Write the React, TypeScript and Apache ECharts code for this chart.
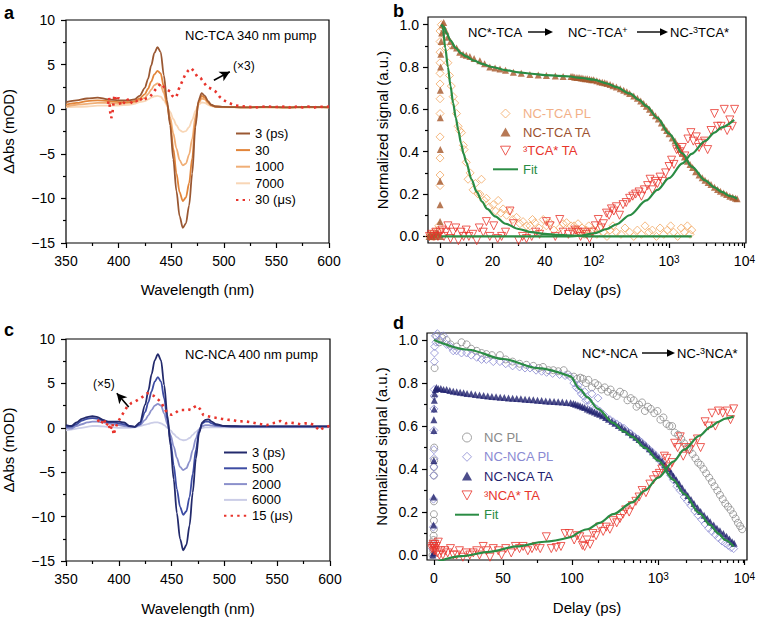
import React, { useEffect, useRef } from 'react';
import * as echarts from 'echarts';

const FONT = 'Liberation Sans, Arial, Helvetica, sans-serif';

// ---------- Panel a : NC-TCA spectra ----------
const WL_A = [
  350, 360, 370, 380, 390, 400, 410, 415, 420, 425,
  428, 431, 434, 437, 440, 443, 446, 449, 452, 455,
  458, 461, 464, 467, 470, 473, 476, 479, 482, 485,
  488, 492, 500, 520, 540, 560, 580, 600,
];
const A_3PS = [
  0.8, 1.0, 1.2, 1.3, 1.1, 1.0, 1.0, 1.1, 1.5, 2.4,
  3.4, 4.9, 6.3, 6.95, 6.4, 3.8, 1.0, -1.8, -5.6, -9.2,
  -12.0, -13.3, -12.8, -10.8, -7.2, -2.0, 1.0, 1.8, 1.5, 0.9,
  0.5, 0.3, 0.25, 0.2, 0.25, 0.2, 0.25, 0.2,
];
const A_30PS = [
  0.5, 0.7, 0.9, 1.0, 0.9, 0.8, 0.8, 0.9, 1.2, 1.7,
  2.3, 3.1, 3.9, 4.3, 4.0, 2.5, 0.6, -1.5, -4.4, -7.2,
  -9.3, -10.3, -9.9, -8.3, -5.5, -1.5, 0.8, 1.5, 1.3, 0.8,
  0.45, 0.3, 0.25, 0.2, 0.25, 0.2, 0.25, 0.2,
];
const A_1000PS = [
  0.3, 0.5, 0.6, 0.7, 0.7, 0.6, 0.7, 0.8, 1.0, 1.3,
  1.7, 2.2, 2.7, 2.9, 2.7, 1.8, 0.5, -0.9, -2.7, -4.4,
  -5.7, -6.3, -6.1, -5.1, -3.3, -0.8, 0.7, 1.2, 1.1, 0.7,
  0.4, 0.3, 0.25, 0.2, 0.2, 0.2, 0.2, 0.2,
];
const A_7000PS = [
  0.2, 0.25, 0.3, 0.4, 0.4, 0.4, 0.5, 0.6, 0.8, 0.9,
  1.1, 1.3, 1.45, 1.5, 1.4, 1.0, 0.4, -0.3, -1.1, -1.8,
  -2.35, -2.55, -2.45, -2.0, -1.2, -0.2, 0.5, 0.75, 0.7, 0.5,
  0.35, 0.25, 0.2, 0.2, 0.2, 0.15, 0.2, 0.2,
];
const A_30US = [
  [390, 0.6], [391, 1.3], [392, -0.3], [393, -1.0], [394, -0.6], [395, 0.5], [396, 1.6], [398, 0.9], [400, 1.3], [402, 0.4],
  [405, 0.7], [408, 1.2], [411, 0.6], [414, 1.0], [417, 0.9], [420, 1.3], [423, 0.9], [426, 1.2], [429, 1.3], [432, 1.7],
  [435, 2.2], [438, 2.6], [440, 2.9], [443, 2.5], [446, 2.2], [449, 2.0], [451, 1.5], [453, 1.3], [455, 1.4], [457, 2.2],
  [460, 3.0], [463, 3.8], [466, 4.3], [469, 4.6], [472, 4.2], [475, 3.6], [478, 3.5], [481, 3.0], [484, 2.5], [488, 2.3],
  [492, 2.0], [496, 1.4], [500, 1.0], [505, 0.7], [510, 0.45], [515, 0.35], [520, 0.3], [530, 0.2], [540, 0.3], [550, 0.25],
  [560, 0.3], [565, 0.1], [570, 0.35], [575, 0.2], [580, 0.3], [585, 0.15], [590, 0.3], [595, 0.25], [600, 0.3],
];
const ARROW_A = [[490.6, 3.25], [505.7, 4.2]];

// ---------- Panel c : NC-NCA spectra ----------
const WL_C = [
  350, 355, 360, 365, 370, 375, 380, 385, 390, 395,
  400, 405, 410, 415, 420, 425, 428, 431, 434, 437,
  440, 443, 446, 449, 452, 455, 458, 461, 464, 467,
  470, 473, 476, 479, 482, 485, 488, 492, 500, 520,
  540, 560, 580, 600,
];
const C_3PS = [
  0.3, 0.2, 0.6, 1.0, 1.2, 1.3, 1.2, 0.9, 0.7, 0.7,
  0.7, 0.6, 0.2, 0.1, 0.6, 2.6, 4.2, 6.0, 7.6, 8.3,
  7.6, 4.8, 1.4, -2.0, -5.8, -9.6, -12.5, -13.8, -13.2, -11.0,
  -7.3, -3.5, -0.6, 0.6, 0.9, 0.95, 0.7, 0.4, 0.2, 0.15,
  0.15, 0.15, 0.15, 0.15,
];
const C_500PS = [
  0.1, 0.1, 0.4, 0.8, 1.0, 1.1, 1.0, 0.8, 0.6, 0.6,
  0.5, 0.4, 0.2, 0.1, 0.4, 1.8, 2.9, 4.1, 5.2, 5.7,
  5.2, 3.3, 0.9, -1.5, -4.2, -6.9, -8.9, -9.8, -9.4, -7.8,
  -5.2, -2.5, -0.4, 0.5, 0.7, 0.7, 0.5, 0.3, 0.2, 0.15,
  0.15, 0.15, 0.15, 0.15,
];
const C_2000PS = [
  0.0, -0.1, 0.2, 0.4, 0.6, 0.7, 0.7, 0.6, 0.5, 0.4,
  0.3, 0.2, 0.1, 0.1, 0.3, 0.9, 1.4, 2.0, 2.5, 2.7,
  2.5, 1.6, 0.4, -0.8, -2.1, -3.4, -4.4, -4.75, -4.55, -3.8,
  -2.5, -1.2, -0.2, 0.2, 0.3, 0.3, 0.25, 0.2, 0.15, 0.1,
  0.1, 0.1, 0.1, 0.1,
];
const C_6000PS = [
  -0.3, -0.2, -0.1, 0.0, 0.1, 0.2, 0.2, 0.15, 0.1, 0.05,
  0.0, 0.0, 0.0, 0.05, 0.2, 0.35, 0.45, 0.55, 0.6, 0.6,
  0.5, 0.3, 0.0, -0.3, -0.7, -1.05, -1.3, -1.4, -1.35, -1.15,
  -0.8, -0.45, -0.15, 0.0, 0.05, 0.05, 0.05, 0.05, 0.05, 0.05,
  0.05, 0.05, 0.05, 0.05,
];
const C_15US = [
  [380, 0.9], [383, 0.4], [386, 1.0], [388, 0.2], [390, 0.6], [392, -0.3], [394, 0.5], [395, -0.8], [397, 0.0], [399, 0.6],
  [402, 1.25], [405, 1.8], [408, 2.4], [412, 2.8], [416, 3.0], [420, 3.3], [424, 3.6], [427, 3.9], [430, 3.7], [433, 3.6],
  [436, 3.3], [440, 2.9], [444, 2.0], [447, 1.6], [450, 1.45], [453, 1.6], [456, 1.9], [459, 2.0], [462, 2.0], [465, 2.1],
  [468, 2.0], [471, 2.3], [474, 2.5], [477, 2.1], [480, 1.45], [484, 1.3], [488, 1.2], [493, 1.1], [498, 1.0], [503, 0.9],
  [508, 0.88], [513, 0.7], [518, 0.75], [524, 0.65], [530, 0.5], [535, 0.4], [540, 0.3], [545, 0.5], [550, 0.6], [553, 0.77],
  [558, 0.5], [562, 0.6], [567, 0.5], [572, 0.4], [577, 0.5], [581, 0.5], [585, 0.3], [590, -0.3], [595, 0.1], [600, 0.2],
];
const ARROW_C = [[409.4, 2.34], [398.1, 3.9]];

// ---------- Panel b : NC-TCA kinetics [delay ps, signal] ----------
const B_TCA_PL = [
  [-4, 0.0], [-3.5, 0.01], [-3, 0.0], [-2.5, 0.02], [-2, 0.0], [-1.5, 0.01], [-1, 0.03], [-0.5, 0.05],
  [0, 0.24], [0, 0.29], [0, 0.37], [0, 0.47], [0, 0.58], [0, 0.65], [0, 0.72], [0, 0.77], [0, 0.82], [0, 0.87], [0, 0.92], [0, 0.97],
  [0.5, 1.0], [1, 0.98], [1.5, 0.95], [2.3, 0.89], [3.0, 0.82], [3.6, 0.76], [4.3, 0.71], [5, 0.66], [5.6, 0.63], [6.3, 0.58],
  [6.9, 0.52], [7.5, 0.5], [8.2, 0.49], [8.9, 0.43], [9.2, 0.41], [10, 0.35], [10.7, 0.27], [11.5, 0.3], [12.6, 0.22], [13.5, 0.25],
  [14.5, 0.2], [15.2, 0.2], [15.8, 0.27], [16.8, 0.17], [17.7, 0.18], [18.8, 0.14], [20.3, 0.15], [21.2, 0.12], [22.2, 0.17], [23.2, 0.11],
  [24.1, 0.13], [25.4, 0.1], [26.5, 0.12], [27.8, 0.08], [29.2, 0.09], [30.5, 0.06], [31.7, 0.07], [33, 0.05], [34.3, 0.05], [35.3, 0.08],
  [36.2, 0.065], [37.8, 0.04], [39.4, 0.08], [40.6, 0.05], [41.9, 0.065], [43.5, 0.03], [45.7, 0.04], [47, 0.06], [48.3, 0.065], [50, 0.05],
  [55, 0.05], [58, 0.03], [62, 0.06], [66, 0.02], [70, 0.04], [75, 0.01], [80, 0.03], [86, 0.05], [92, 0.02], [100, 0.03],
  [110, 0.01], [120, 0.04], [135, 0.02], [150, 0.0], [165, 0.03], [180, 0.05], [200, 0.02], [230, 0.01], [260, 0.04], [300, 0.02],
  [340, 0.0], [380, 0.03], [430, 0.01], [480, 0.05], [540, 0.02], [600, 0.03], [680, 0.0], [760, 0.04], [850, 0.01], [950, 0.03],
  [1050, 0.05], [1150, 0.02], [1300, 0.0], [1450, 0.04], [1600, 0.02], [1750, 0.05], [1900, 0.01], [2000, 0.03],
];
const B_TCA_TA = [
  [-4.2, 0.0], [-3.6, 0.01], [-3, 0.0], [-2.4, 0.01], [-1.8, 0.0], [-1.2, 0.02], [-0.6, 0.01], [0, 0.0], [0, 0.07], [0, 0.15],
  [0, 0.26], [0.1, 0.41], [0.1, 0.56], [0.1, 0.69], [0.2, 0.8], [0.3, 0.86], [0.4, 0.92], [0.6, 0.96], [0.9, 1.0], [1.4, 1.01],
  [2.2, 0.97], [3, 0.94], [4, 0.92], [5, 0.9], [6.3, 0.89], [7.5, 0.87], [8.8, 0.86], [10, 0.855], [11.4, 0.85], [13, 0.84],
  [15.2, 0.83], [17, 0.815], [19, 0.8], [21, 0.795], [22.9, 0.79], [25, 0.785], [28, 0.775], [31, 0.77], [34.3, 0.765], [37.5, 0.762],
  [40.6, 0.76], [44, 0.758], [47, 0.755], [50, 0.755],
  [53, 0.755], [56, 0.752], [60, 0.75], [64, 0.75], [68, 0.748], [72, 0.747], [77, 0.745], [82, 0.745], [88, 0.742], [94, 0.74],
  [100, 0.74], [110, 0.735], [120, 0.73], [130, 0.728], [140, 0.725], [150, 0.722], [165, 0.717], [180, 0.712], [200, 0.705], [225, 0.697],
  [250, 0.69], [275, 0.683], [300, 0.675], [340, 0.663], [380, 0.652], [420, 0.64], [460, 0.628], [500, 0.615], [550, 0.6], [600, 0.585],
  [660, 0.57], [720, 0.555], [790, 0.535], [860, 0.515], [930, 0.5], [1000, 0.485], [1100, 0.465], [1200, 0.45], [1300, 0.43], [1400, 0.41],
  [1500, 0.392], [1600, 0.375], [1750, 0.355], [1900, 0.34], [2050, 0.325], [2250, 0.305], [2500, 0.29], [2750, 0.277], [3000, 0.265], [3300, 0.255],
  [3600, 0.245], [4000, 0.232], [4400, 0.222], [4800, 0.213], [5300, 0.205], [5800, 0.198], [6400, 0.19], [7000, 0.185], [7600, 0.18], [8000, 0.178],
];
const B_3TCA_TA = [
  [-4, 0.0], [-3.2, 0.01], [-2.4, 0.0], [-1.6, 0.02], [-0.8, 0.0], [0, 0.02], [0.8, 0.03], [1.5, 0.0], [2.3, 0.02], [3, 0.05],
  [4, -0.01], [5, 0.02], [6, 0.04], [7, -0.02], [8, 0.02], [9, 0.0], [10, 0.03], [11, 0.0], [12.5, 0.01], [14, -0.02],
  [15, 0.04], [16.5, 0.02], [17.7, 0.07], [19, 0.0], [20.5, 0.05], [22, -0.01], [23.5, 0.0], [25, 0.02], [26.7, 0.12], [28, 0.06],
  [30, -0.02], [31.5, 0.0], [33, -0.01], [35, 0.0], [36.5, 0.02], [38, 0.01], [40.6, 0.07], [42, 0.05], [44, 0.0], [45.7, 0.08],
  [47, 0.02], [49, 0.01],
  [52, 0.02], [57, 0.03], [62, 0.02], [67, 0.0], [73, 0.02], [80, 0.01], [88, -0.01], [95, 0.02], [105, 0.05], [115, 0.08],
  [125, 0.04], [135, 0.06], [148, 0.11], [160, 0.1], [172, 0.13], [185, 0.12], [200, 0.14], [220, 0.1], [245, 0.15], [270, 0.16],
  [300, 0.18], [330, 0.19], [360, 0.2], [400, 0.21], [430, 0.19], [470, 0.22], [520, 0.24], [560, 0.27], [600, 0.22], [650, 0.26],
  [700, 0.25], [760, 0.28], [820, 0.26], [900, 0.3], [1000, 0.33], [1080, 0.36], [1160, 0.34], [1260, 0.41], [1380, 0.4], [1500, 0.42],
  [1620, 0.38], [1780, 0.46], [1950, 0.49], [2100, 0.45], [2300, 0.47], [2500, 0.42], [2700, 0.44], [2950, 0.45], [3250, 0.41], [3600, 0.5],
  [4000, 0.58], [4400, 0.52], [4900, 0.52], [5400, 0.6], [5900, 0.5], [6400, 0.55], [6900, 0.52], [7400, 0.6],
];
const B_FIT_PL = [
  [0.5, 1.0], [1, 0.99], [2, 0.89], [3, 0.8], [4, 0.71], [5, 0.63], [6, 0.56], [7, 0.5], [8, 0.44], [9, 0.39],
  [10, 0.35], [12, 0.27], [14, 0.21], [16, 0.165], [18, 0.13], [21, 0.095], [25, 0.06], [30, 0.035], [35, 0.02], [40, 0.012],
  [45, 0.007], [50, 0.004], [100, 0.0], [2000, 0.0],
];
const B_FIT_TA = [
  [0.5, 1.0], [1.5, 0.99], [2.5, 0.96], [4, 0.925], [6, 0.89], [8, 0.865], [10, 0.85], [13, 0.83], [16, 0.815], [20, 0.8],
  [25, 0.785], [30, 0.775], [35, 0.768], [40, 0.762], [45, 0.758], [50, 0.755], [70, 0.748], [100, 0.74], [150, 0.722], [200, 0.705],
  [300, 0.675], [400, 0.645], [500, 0.615], [700, 0.56], [1000, 0.485], [1500, 0.392], [2000, 0.33], [3000, 0.265], [4000, 0.232], [5000, 0.21],
  [6500, 0.19], [8000, 0.178],
];
const B_FIT_3TCA = [
  [0.5, 0.0], [50, 0.0], [70, 0.004], [100, 0.015], [150, 0.035], [200, 0.057], [300, 0.1], [500, 0.17], [700, 0.22], [1000, 0.275],
  [1500, 0.345], [2000, 0.39], [3000, 0.45], [4000, 0.49], [5000, 0.515], [7300, 0.55],
];

// ---------- Panel d : NC-NCA kinetics [delay ps, signal] ----------
const D_NC_PL = [
  [-1, 0.0], [-0.6, 0.02], [-0.3, 0.07], [-0.2, 0.09], [0, 0.12], [0, 0.16], [0, 0.19], [0, 0.25], [0, 0.37], [0, 0.41],
  [0.2, 0.44], [0.2, 0.5], [0.5, 0.87], [1.8, 1.02], [4, 0.99], [6, 1.01], [9.2, 1.0], [12, 0.98], [16.4, 0.97], [20, 0.99],
  [23.7, 0.98], [27, 0.96], [31, 0.95], [34.5, 0.94], [38, 0.935], [42, 0.93], [47.8, 0.93], [52, 0.91], [57, 0.9], [62, 0.89],
  [67, 0.885], [72, 0.88], [76, 0.87], [79, 0.875], [83, 0.86], [86.5, 0.86], [90, 0.855], [94, 0.86], [97, 0.84],
  [105, 0.83], [115, 0.82], [125, 0.825], [134, 0.82], [145, 0.8], [155, 0.815], [170, 0.78], [185, 0.8], [200, 0.79], [220, 0.77],
  [240, 0.78], [260, 0.76], [280, 0.77], [300, 0.75], [330, 0.74], [360, 0.76], [400, 0.75], [440, 0.72], [480, 0.73], [520, 0.72],
  [560, 0.69], [600, 0.7], [650, 0.71], [700, 0.67], [760, 0.69], [820, 0.68], [900, 0.66], [980, 0.67], [1060, 0.63], [1150, 0.64],
  [1250, 0.61], [1350, 0.6], [1450, 0.6], [1550, 0.57], [1700, 0.56], [1850, 0.54], [2000, 0.52], [2150, 0.5], [2300, 0.49], [2500, 0.47],
  [2700, 0.45], [2900, 0.43], [3100, 0.42], [3350, 0.4], [3600, 0.38], [3900, 0.36], [4200, 0.34], [4500, 0.32], [4850, 0.3], [5200, 0.28],
  [5600, 0.26], [6000, 0.24], [6450, 0.225], [6900, 0.21], [7400, 0.19], [7900, 0.17], [8400, 0.15], [8900, 0.135], [9400, 0.12],
];
const D_NCA_PL = [
  [-1, 0.03], [-0.6, 0.05], [-0.4, 0.13], [-0.3, 0.26], [-0.2, 0.37], [0, 0.41], [0, 0.45], [0, 0.49], [0, 0.58], [0, 0.68],
  [0.2, 0.74], [0.2, 0.77], [0.3, 0.9], [0.4, 0.94], [0.6, 0.97], [1, 1.02], [1.5, 0.99], [2.5, 1.03], [4, 1.0], [6.9, 1.02],
  [9.2, 0.98], [12, 0.97], [14, 0.95], [16.4, 0.95], [20, 0.94], [23.7, 0.94], [27, 0.93], [31, 0.92], [34.5, 0.91], [38, 0.91],
  [43, 0.9], [47.8, 0.9], [52, 0.89], [57, 0.88], [62, 0.875], [66, 0.87], [69.6, 0.87], [74, 0.86], [78, 0.855], [81.6, 0.85],
  [86, 0.845], [91, 0.84], [95, 0.835], [98.6, 0.83],
  [105, 0.8], [112, 0.78], [118, 0.79], [120, 0.77], [128, 0.75], [136, 0.74], [140, 0.76], [145, 0.72], [155, 0.72], [165, 0.7],
  [170, 0.75], [178, 0.69], [192, 0.68], [200, 0.73], [209, 0.67], [230, 0.655], [250, 0.64], [275, 0.63], [300, 0.62], [330, 0.61],
  [360, 0.6], [400, 0.59], [440, 0.575], [480, 0.565], [530, 0.55], [580, 0.54], [640, 0.525], [700, 0.51], [770, 0.495], [850, 0.48],
  [930, 0.465], [1010, 0.45], [1100, 0.43], [1200, 0.41], [1300, 0.39], [1400, 0.37], [1500, 0.35], [1650, 0.32], [1800, 0.3], [2000, 0.27],
  [2200, 0.25], [2400, 0.23], [2650, 0.205], [2900, 0.185], [3200, 0.165], [3500, 0.145], [3850, 0.125], [4200, 0.11], [4600, 0.095], [5000, 0.08],
  [5500, 0.065], [6000, 0.055], [6500, 0.045], [7000, 0.035], [7500, 0.03],
];
const D_NCA_TA = [
  [-0.8, 0.0], [-0.5, 0.01], [-0.3, 0.14], [-0.2, 0.27], [0, 0.44], [0, 0.58], [0, 0.63], [0.2, 0.68], [0.3, 0.72], [0.5, 0.75],
  [1, 0.77], [1.8, 0.78], [3.1, 0.775], [5, 0.775], [7, 0.77], [9.2, 0.77], [11.5, 0.765], [14, 0.762], [16.5, 0.76], [19, 0.757],
  [21.5, 0.755], [24, 0.752], [27, 0.75], [30, 0.747], [33, 0.745], [36, 0.742], [39, 0.74], [42, 0.738], [45, 0.736], [48, 0.734],
  [51, 0.733], [54, 0.731], [57, 0.73], [60, 0.728], [63, 0.727], [66, 0.725], [69, 0.724], [72, 0.722], [75, 0.72], [78, 0.719],
  [81, 0.717], [84, 0.716], [87, 0.714], [90, 0.713], [93, 0.712], [96, 0.71], [99, 0.708],
  [104, 0.705], [110, 0.702], [117, 0.698], [124, 0.694], [132, 0.69], [140, 0.686], [150, 0.68], [160, 0.675], [170, 0.67], [182, 0.665],
  [195, 0.66], [209, 0.655], [225, 0.648], [245, 0.64], [265, 0.632], [290, 0.622], [315, 0.613], [345, 0.603], [375, 0.594], [410, 0.584],
  [450, 0.573], [500, 0.56], [550, 0.548], [600, 0.537], [660, 0.523], [720, 0.51], [790, 0.495], [860, 0.481], [940, 0.466], [1020, 0.452],
  [1110, 0.436], [1200, 0.42], [1300, 0.403], [1400, 0.385], [1500, 0.368], [1620, 0.35], [1750, 0.332], [1900, 0.312], [2050, 0.293], [2200, 0.277],
  [2400, 0.258], [2600, 0.24], [2850, 0.22], [3100, 0.203], [3400, 0.185], [3700, 0.17], [4000, 0.155], [4400, 0.14], [4800, 0.125], [5200, 0.113],
  [5700, 0.1], [6200, 0.088], [6700, 0.075], [7200, 0.062], [7600, 0.055],
];
const D_3NCA_TA = [
  [-1.5, 0.03], [-1, 0.04], [-0.5, 0.05], [0, 0.04], [0, 0.02], [0.3, 0.03], [0.8, 0.05], [1.2, 0.02], [1.8, 0.04], [2.5, 0.01],
  [3.2, 0.06], [4, 0.0], [5, 0.02], [6.5, 0.0], [8, 0.02], [10, 0.01], [12, 0.03], [14, 0.0], [16.4, 0.0], [18.5, 0.02],
  [21, -0.01], [23.5, 0.01], [26, 0.0], [28.5, 0.01], [31, 0.02], [33, 0.0], [35.7, 0.04], [38, 0.02], [40.6, -0.01], [43, 0.03],
  [46.6, 0.02], [49, 0.0], [52, 0.03], [56, 0.01], [59, 0.04], [62, 0.03], [64.6, 0.04], [68, 0.02], [71, 0.03], [74.2, 0.04],
  [77, 0.03], [81.4, 0.085], [85, 0.03], [88.6, 0.035], [92, 0.04], [95, 0.1], [98, 0.1],
  [106, 0.07], [115, 0.09], [123, 0.085], [132, 0.045], [140, 0.04], [150, 0.07], [162, 0.05], [175, 0.1], [190, 0.09], [209, 0.13],
  [230, 0.11], [250, 0.13], [275, 0.12], [300, 0.16], [330, 0.15], [360, 0.17], [390, 0.19], [420, 0.21], [460, 0.2], [500, 0.23],
  [550, 0.25], [600, 0.27], [650, 0.3], [720, 0.29], [800, 0.33], [880, 0.35], [950, 0.37], [1030, 0.38], [1100, 0.4], [1180, 0.46],
  [1260, 0.45], [1350, 0.41], [1450, 0.43], [1550, 0.52], [1680, 0.5], [1800, 0.55], [1950, 0.46], [2100, 0.5], [2300, 0.49], [2550, 0.52],
  [2850, 0.54], [3100, 0.5], [3500, 0.62], [3800, 0.6], [4200, 0.66], [4600, 0.6], [5000, 0.67], [5600, 0.66], [6300, 0.67], [6900, 0.63],
  [7500, 0.68],
];
const D_FIT_DECAY = [
  [0, 1.0], [25, 0.955], [50, 0.912], [75, 0.87], [100, 0.828], [125, 0.77], [150, 0.735], [200, 0.68], [300, 0.615], [400, 0.575],
  [500, 0.55], [700, 0.5], [1000, 0.44], [1500, 0.35], [2000, 0.285], [3000, 0.195], [4000, 0.14], [5000, 0.1], [6000, 0.07], [7500, 0.04],
];
const D_FIT_RISE = [
  [3, -0.03], [20, -0.005], [40, 0.015], [60, 0.04], [80, 0.062], [100, 0.085], [150, 0.12], [209, 0.15], [300, 0.19], [500, 0.245],
  [700, 0.3], [1000, 0.36], [1500, 0.435], [2000, 0.49], [3000, 0.555], [4000, 0.595], [5000, 0.62], [6000, 0.635], [7500, 0.645],
];

// ---------- axis ticks ----------
const WL_RANGE = [350, 600];
const DABS_RANGE = [-15, 10];
const B_LIN_RANGE = [-4.6, 50];
const B_LOG_RANGE = [50, 10000];
const D_LIN_RANGE = [-5, 100];
const D_LOG_RANGE = [100, 10000];
const B_Y_RANGE = [-0.031, 1.036];
const D_Y_RANGE = [-0.023, 1.033];
const NORM_TICKS = [0, 0.2, 0.4, 0.6, 0.8, 1.0];
const NORM_MINOR = [0.1, 0.3, 0.5, 0.7, 0.9];
const B_LIN_TICKS = [0, 20, 40];
const B_LIN_MINOR = [10, 30];
const B_LOG_TICKS = [100, 1000, 10000];
const B_LOG_MINOR = [60, 70, 80, 90, 200, 300, 400, 500, 600, 700, 800, 900, 2000, 3000, 4000, 5000, 6000, 7000, 8000, 9000];
const D_LIN_TICKS = [0, 50, 100];
const D_LIN_MINOR = [25, 75];
const D_LOG_TICKS = [1000, 10000];
const D_LOG_MINOR = [200, 300, 400, 500, 600, 700, 800, 900, 2000, 3000, 4000, 5000, 6000, 7000, 8000, 9000];

// colours
const COL = {
  a3: '#9a5833', a30: '#e2853a', a1000: '#f0ae76', a7000: '#f8d6b6', red: '#e8342c',
  c3: '#232a6c', c500: '#3d4ca3', c2000: '#8b90cb', c6000: '#cbcde7',
  pl: '#f3a862', ta: '#a5582b', fit: '#2a8c44',
  ncpl: '#8c8c8c', ncapl: '#8a8ad2', ncata: '#1f206e',
};

// legend marker outlines (drawn at a fixed aspect ratio)
const ICON = {
  diamond: 'path://M5,0 L10,5 L5,10 L0,5 Z',
  up: 'path://M5,0 L10,9 L0,9 Z',
  down: 'path://M0,0 L10,0 L5,9 Z',
  circle: 'path://M0,5 A5,5 0 1,1 10,5 A5,5 0 1,1 0,5 Z',
};

const L10 = (v: number) => Math.log10(v);
const linPart = (pairs: number[][], cut: number) => pairs.filter((p) => p[0] <= cut);
const logPart = (pairs: number[][], cut: number, incl: boolean) =>
  pairs.filter((p) => (incl ? p[0] >= cut : p[0] > cut)).map((p) => [L10(p[0]), p[1]]);
const zip = (xs: number[], ys: number[]) => xs.map((x, i) => [x, ys[i]]);

const tickLine = { color: '#000', width: 1.2 };
const labelBase = { color: '#000', fontSize: 14, fontFamily: FONT };
const nameStyle = { color: '#000', fontSize: 15, fontFamily: FONT };
const minusFmt = (v: number) => (v < 0 ? '\u2212' + Math.abs(v) : String(v));

function vAxis(gridIndex: number, min: number, max: number, extra: any = {}) {
  return {
    type: 'value',
    gridIndex,
    min,
    max,
    axisLine: { show: false, onZero: false },
    axisTick: { show: false },
    axisLabel: { show: false },
    minorTick: { show: false },
    splitLine: { show: false },
    ...extra,
  };
}

function buildOption() {
  const gridBox = { show: true, borderColor: '#000', borderWidth: 1.2, backgroundColor: 'transparent' };
  const grids = [
    { left: 65, top: 20, width: 264, height: 223, ...gridBox }, // 0 a
    { left: 65, top: 339, width: 265, height: 222, ...gridBox }, // 1 c
    { left: 428, top: 17, width: 318, height: 226, ...gridBox }, // 2 b frame
    { left: 428, top: 17, width: 143, height: 226 }, // 3 b lin
    { left: 571, top: 17, width: 175, height: 226 }, // 4 b log
    { left: 428, top: 17, width: 143, height: 226 }, // 5 b lin minor
    { left: 571, top: 17, width: 175, height: 226 }, // 6 b log minor
    { left: 427, top: 333, width: 320, height: 227, ...gridBox }, // 7 d frame
    { left: 427, top: 333, width: 145, height: 227 }, // 8 d lin
    { left: 572, top: 333, width: 175, height: 227 }, // 9 d log
    { left: 427, top: 333, width: 145, height: 227 }, // 10 d lin minor
    { left: 572, top: 333, width: 175, height: 227 }, // 11 d log minor
  ];

  const major = (vals: number[] | null, extraLabel: any = {}) => ({
    axisTick: vals ? { show: true, customValues: vals, length: 5, lineStyle: tickLine } : { show: true, length: 5, lineStyle: tickLine },
    axisLabel: vals
      ? { show: true, customValues: vals, margin: 11, ...labelBase, ...extraLabel }
      : { show: true, margin: 11, ...labelBase, ...extraLabel },
  });
  const minor = (vals: number[]) => ({ axisTick: { show: true, customValues: vals, length: 3, lineStyle: tickLine } });
  const supFmt = (v: number) => '10{sup|' + Math.round(v) + '}';
  const supRich = { sup: { fontSize: 10, verticalAlign: 'top', color: '#000', fontFamily: FONT } };

  const specX = (gi: number, gap: number) =>
    vAxis(gi, WL_RANGE[0], WL_RANGE[1], {
      interval: 50,
      ...major(null),
      minorTick: { show: true, splitNumber: 2, length: 3, lineStyle: tickLine },
      name: 'Wavelength (nm)', nameLocation: 'middle', nameGap: gap, nameTextStyle: nameStyle,
    });
  const specY = (gi: number) =>
    vAxis(gi, DABS_RANGE[0], DABS_RANGE[1], {
      interval: 5,
      ...major(null, { formatter: minusFmt }),
      minorTick: { show: true, splitNumber: 2, length: 3, lineStyle: tickLine },
      name: '\u0394Abs (mOD)', nameLocation: 'middle', nameGap: 50, nameTextStyle: nameStyle,
    });

  const xAxis = [
    specX(0, 39), // 0
    specX(1, 40), // 1
    vAxis(2, 0, 1, { name: 'Delay (ps)', nameLocation: 'middle', nameGap: 39, nameTextStyle: nameStyle }), // 2
    vAxis(3, B_LIN_RANGE[0], B_LIN_RANGE[1], major(B_LIN_TICKS)), // 3
    vAxis(4, L10(B_LOG_RANGE[0]), L10(B_LOG_RANGE[1]), major(B_LOG_TICKS.map(L10), { formatter: supFmt, rich: supRich })), // 4
    vAxis(5, B_LIN_RANGE[0], B_LIN_RANGE[1], minor(B_LIN_MINOR)), // 5
    vAxis(6, L10(B_LOG_RANGE[0]), L10(B_LOG_RANGE[1]), minor(B_LOG_MINOR.map(L10))), // 6
    vAxis(7, 0, 1, { name: 'Delay (ps)', nameLocation: 'middle', nameGap: 40, nameTextStyle: nameStyle }), // 7
    vAxis(8, D_LIN_RANGE[0], D_LIN_RANGE[1], major(D_LIN_TICKS)), // 8
    vAxis(9, L10(D_LOG_RANGE[0]), L10(D_LOG_RANGE[1]), major(D_LOG_TICKS.map(L10), { formatter: supFmt, rich: supRich })), // 9
    vAxis(10, D_LIN_RANGE[0], D_LIN_RANGE[1], minor(D_LIN_MINOR)), // 10
    vAxis(11, L10(D_LOG_RANGE[0]), L10(D_LOG_RANGE[1]), minor(D_LOG_MINOR.map(L10))), // 11
  ];
  const normFmt = (v: number) => v.toFixed(1);
  const yAxis = [
    specY(0), // 0
    specY(1), // 1
    vAxis(2, 0, 1, { name: 'Normalized signal (a.u.)', nameLocation: 'middle', nameGap: 38, nameTextStyle: nameStyle }), // 2
    vAxis(3, B_Y_RANGE[0], B_Y_RANGE[1], major(NORM_TICKS, { formatter: normFmt, margin: 9 })), // 3
    vAxis(4, B_Y_RANGE[0], B_Y_RANGE[1]), // 4
    vAxis(5, B_Y_RANGE[0], B_Y_RANGE[1], minor(NORM_MINOR)), // 5
    vAxis(6, B_Y_RANGE[0], B_Y_RANGE[1]), // 6
    vAxis(7, 0, 1, { name: 'Normalized signal (a.u.)', nameLocation: 'middle', nameGap: 38, nameTextStyle: nameStyle }), // 7
    vAxis(8, D_Y_RANGE[0], D_Y_RANGE[1], major(NORM_TICKS, { formatter: normFmt, margin: 9 })), // 8
    vAxis(9, D_Y_RANGE[0], D_Y_RANGE[1]), // 9
    vAxis(10, D_Y_RANGE[0], D_Y_RANGE[1], minor(NORM_MINOR)), // 10
    vAxis(11, D_Y_RANGE[0], D_Y_RANGE[1]), // 11
  ];

  const specLine = (name: string, data: number[][], ai: number, color: string, width = 1.8) => ({
    type: 'line', name, data, xAxisIndex: ai, yAxisIndex: ai, symbol: 'none', smooth: 0.3, smoothMonotone: 'x',
    lineStyle: { color, width }, itemStyle: { color }, silent: true, z: 2,
  });
  const dotLine = (name: string, data: number[][], ai: number, arrow: number[][]) => ({
    type: 'line', name, data, xAxisIndex: ai, yAxisIndex: ai, symbol: 'none',
    lineStyle: { color: COL.red, width: 2.6, type: [2.4, 4.2] }, itemStyle: { color: COL.red }, silent: true, z: 3,
    markLine: {
      silent: true, symbol: ['none', 'arrow'], symbolSize: [8, 10], label: { show: false },
      lineStyle: { color: '#000', width: 1.6, type: 'solid' },
      data: [[{ coord: arrow[0] }, { coord: arrow[1] }]],
    },
  });
  const scat = (name: string, data: number[][], ai: number, symbol: string, size: number, color: string, filled: boolean, rotate = 0, z = 3) => ({
    type: 'scatter', name, data, xAxisIndex: ai, yAxisIndex: ai, symbol, symbolSize: size, symbolRotate: rotate,
    itemStyle: filled ? { color } : { color: 'rgba(255,255,255,0)', borderColor: color, borderWidth: 1 },
    silent: true, z,
  });
  const fitLine = (name: string, data: number[][], ai: number) => ({
    type: 'line', name, data, xAxisIndex: ai, yAxisIndex: ai, symbol: 'none', smooth: 0.3, smoothMonotone: 'x',
    lineStyle: { color: COL.fit, width: 2.2 }, itemStyle: { color: COL.fit }, silent: true, z: 6,
  });

  const BC = B_LIN_RANGE[1];
  const DC = D_LIN_RANGE[1];
  const series: any[] = [
    // a
    specLine('a:7000', zip(WL_A, A_7000PS), 0, COL.a7000),
    specLine('a:1000', zip(WL_A, A_1000PS), 0, COL.a1000),
    specLine('a:30', zip(WL_A, A_30PS), 0, COL.a30),
    specLine('a:3 (ps)', zip(WL_A, A_3PS), 0, COL.a3),
    dotLine('a:30 (\u03bcs)', A_30US, 0, ARROW_A),
    // c
    specLine('c:6000', zip(WL_C, C_6000PS), 1, COL.c6000),
    specLine('c:2000', zip(WL_C, C_2000PS), 1, COL.c2000),
    specLine('c:500', zip(WL_C, C_500PS), 1, COL.c500),
    specLine('c:3 (ps)', zip(WL_C, C_3PS), 1, COL.c3),
    dotLine('c:15 (\u03bcs)', C_15US, 1, ARROW_C),
    // b
    scat('b:NC-TCA PL', linPart(B_TCA_PL, BC), 3, 'diamond', 8, COL.pl, false),
    scat('b:NC-TCA PL', logPart(B_TCA_PL, BC, false), 4, 'diamond', 8, COL.pl, false),
    scat('b:NC-TCA TA', linPart(B_TCA_TA, BC), 3, 'triangle', 7, COL.ta, true, 0, 4),
    scat('b:NC-TCA TA', logPart(B_TCA_TA, BC, false), 4, 'triangle', 7, COL.ta, true, 0, 4),
    scat('b:\u00b3TCA* TA', linPart(B_3TCA_TA, BC), 3, 'triangle', 8, COL.red, false, 180, 5),
    scat('b:\u00b3TCA* TA', logPart(B_3TCA_TA, BC, false), 4, 'triangle', 8, COL.red, false, 180, 5),
    fitLine('b:Fit', linPart(B_FIT_PL, BC), 3),
    fitLine('b:Fit', logPart(B_FIT_PL, BC, true), 4),
    fitLine('b:Fit', linPart(B_FIT_TA, BC), 3),
    fitLine('b:Fit', logPart(B_FIT_TA, BC, true), 4),
    fitLine('b:Fit', linPart(B_FIT_3TCA, BC), 3),
    fitLine('b:Fit', logPart(B_FIT_3TCA, BC, true), 4),
    // d
    scat('d:NC PL', linPart(D_NC_PL, DC), 8, 'circle', 7, COL.ncpl, false),
    scat('d:NC PL', logPart(D_NC_PL, DC, false), 9, 'circle', 7, COL.ncpl, false),
    scat('d:NC-NCA PL', linPart(D_NCA_PL, DC), 8, 'diamond', 8, COL.ncapl, false),
    scat('d:NC-NCA PL', logPart(D_NCA_PL, DC, false), 9, 'diamond', 8, COL.ncapl, false),
    scat('d:NC-NCA TA', linPart(D_NCA_TA, DC), 8, 'triangle', 7, COL.ncata, true, 0, 4),
    scat('d:NC-NCA TA', logPart(D_NCA_TA, DC, false), 9, 'triangle', 7, COL.ncata, true, 0, 4),
    scat('d:\u00b3NCA* TA', linPart(D_3NCA_TA, DC), 8, 'triangle', 8, COL.red, false, 180, 5),
    scat('d:\u00b3NCA* TA', logPart(D_3NCA_TA, DC, false), 9, 'triangle', 8, COL.red, false, 180, 5),
    fitLine('d:Fit', linPart(D_FIT_DECAY, DC), 8),
    fitLine('d:Fit', logPart(D_FIT_DECAY, DC, true), 9),
    fitLine('d:Fit', linPart(D_FIT_RISE, DC), 8),
    fitLine('d:Fit', logPart(D_FIT_RISE, DC, true), 9),
  ];

  const legendBase = {
    orient: 'vertical', padding: 0, selectedMode: false, itemHeight: 9, symbolKeepAspect: true,
    textStyle: { fontSize: 13, fontFamily: FONT, color: '#000' },
    formatter: (n: string) => n.slice(2),
  };
  const hideSym = { opacity: 0 };
  const openMark = (color: string) => ({ color: 'rgba(255,255,255,0)', borderColor: color, borderWidth: 1 });
  const legend = [
    { ...legendBase, left: 235, top: 127, itemWidth: 14, itemGap: 3.6, itemStyle: hideSym,
      data: ['a:3 (ps)', 'a:30', 'a:1000', 'a:7000', 'a:30 (\u03bcs)'] },
    { ...legendBase, left: 223, top: 446, itemWidth: 23, itemGap: 2.8, itemStyle: hideSym,
      data: ['c:3 (ps)', 'c:500', 'c:2000', 'c:6000', 'c:15 (\u03bcs)'] },
    { ...legendBase, left: 492, top: 107, itemWidth: 25, itemGap: 5.6,
      data: [
        { name: 'b:NC-TCA PL', icon: ICON.diamond, symbolRotate: 0, itemStyle: openMark(COL.pl), textStyle: { color: '#f2b088' } },
        { name: 'b:NC-TCA TA', icon: ICON.up, symbolRotate: 0, itemStyle: { color: COL.ta, borderWidth: 0 }, textStyle: { color: '#9c5230' } },
        { name: 'b:\u00b3TCA* TA', icon: ICON.down, symbolRotate: 0, itemStyle: openMark(COL.red), textStyle: { color: COL.red } },
        { name: 'b:Fit', textStyle: { color: COL.fit }, itemStyle: hideSym },
      ] },
    { ...legendBase, left: 454, top: 431, itemWidth: 24, itemGap: 6.3,
      data: [
        { name: 'd:NC PL', icon: ICON.circle, symbolRotate: 0, itemStyle: openMark(COL.ncpl), textStyle: { color: '#8a8a8a' } },
        { name: 'd:NC-NCA PL', icon: ICON.diamond, symbolRotate: 0, itemStyle: openMark(COL.ncapl), textStyle: { color: COL.ncapl } },
        { name: 'd:NC-NCA TA', icon: ICON.up, symbolRotate: 0, itemStyle: { color: COL.ncata, borderWidth: 0 }, textStyle: { color: COL.ncata } },
        { name: 'd:\u00b3NCA* TA', icon: ICON.down, symbolRotate: 0, itemStyle: openMark(COL.red), textStyle: { color: COL.red } },
        { name: 'd:Fit', textStyle: { color: COL.fit }, itemStyle: hideSym },
      ] },
  ];

  const txt = (x: number, y: number, text: string, size = 13, extra: any = {}) => ({
    type: 'text', x, y, silent: true,
    style: {
      text, fontSize: size, fontFamily: FONT, fill: '#000', verticalAlign: 'middle',
      rich: { sup: { fontSize: 9, verticalAlign: 'top', fontFamily: FONT, fill: '#000' } },
      ...extra,
    },
  });
  const letter = (x: number, y: number, t: string) => txt(x, y, t, 18, { fontWeight: 'bold' });
  const arrow = (x1: number, x2: number, y: number) => ({
    type: 'group', silent: true,
    children: [
      { type: 'line', shape: { x1, y1: y, x2: x2 - 6, y2: y }, style: { stroke: '#000', lineWidth: 1.4 } },
      { type: 'polygon', shape: { points: [[x2 - 8, y - 3.8], [x2, y], [x2 - 8, y + 3.8]] }, style: { fill: '#000' } },
    ],
  });
  const graphic = [
    letter(4, 13, 'a'), letter(393, 11, 'b'), letter(4, 330, 'c'), letter(393, 323, 'd'),
    txt(185, 35, 'NC-TCA 340 nm pump'),
    txt(185, 354, 'NC-NCA 400 nm pump'),
    txt(233, 66, '(\u00d73)', 12),
    txt(93, 384, '(\u00d75)', 12),
    txt(468, 32, 'NC*-TCA'),
    arrow(528, 553, 32),
    txt(568, 32, 'NC{sup|\u2212}-TCA{sup|+}'),
    arrow(637, 668, 32),
    txt(670, 32, 'NC-{sup|3}TCA*'),
    txt(582, 353, 'NC*-NCA'),
    arrow(642, 675, 353),
    txt(677, 353, 'NC-{sup|3}NCA*'),
  ];

  return {
    animation: false,
    backgroundColor: '#fff',
    textStyle: { fontFamily: FONT },
    grid: grids,
    xAxis,
    yAxis,
    legend,
    series,
    graphic,
  };
}

export default function App() {
  const ref = useRef<HTMLDivElement>(null);
  useEffect(() => {
    if (!ref.current) return;
    const chart = echarts.init(ref.current, undefined, { renderer: 'svg' });
    chart.setOption(buildOption() as any);
    return () => chart.dispose();
  }, []);
  return (
    <div
      ref={ref}
      style={{ position: 'absolute', left: 0, top: 0, width: 758, height: 618, background: '#fff' }}
    />
  );
}
